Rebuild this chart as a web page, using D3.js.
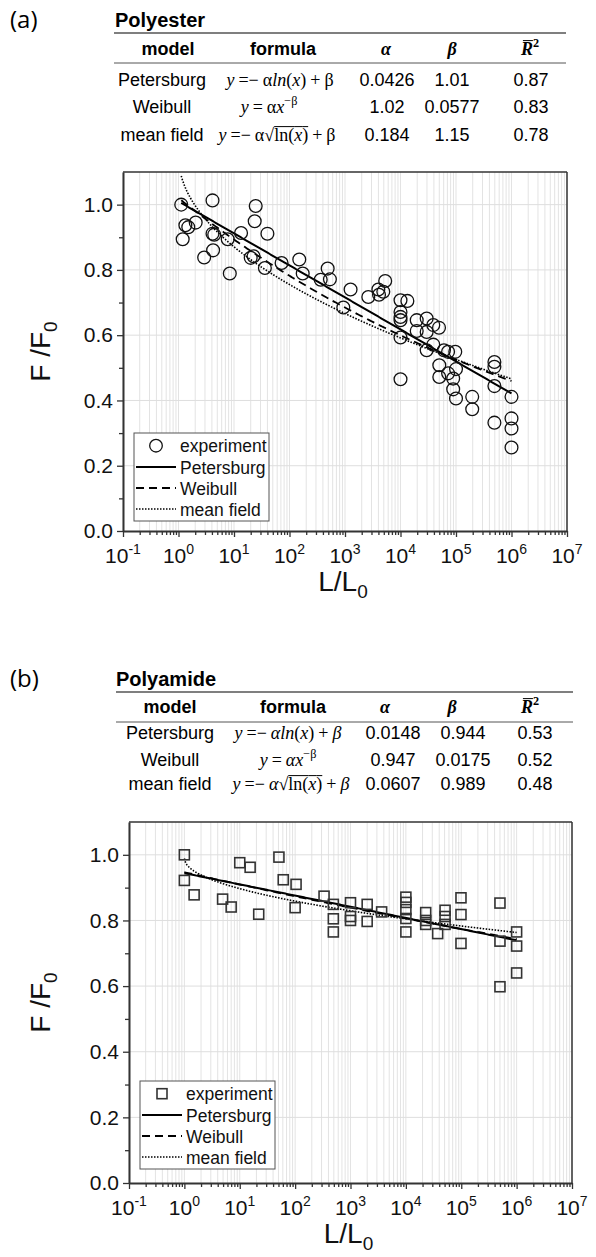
<!DOCTYPE html>
<html>
<head>
<meta charset="utf-8">
<script src="https://cdn.jsdelivr.net/npm/d3@7"></script>
<style>
body { margin: 0; background: #fff; }
</style>
</head>
<body>
<svg id="chart" width="596" height="1257"></svg>
<script>
// table values
var modelNames = ["Petersburg", "Weibull", "mean field"];
var polyesterAlpha = [0.0426, 1.02, 0.184];
var polyesterBeta = [1.01, 0.0577, 1.15];
var polyesterR2 = [0.87, 0.83, 0.78];
var polyamideAlpha = [0.0148, 0.947, 0.0607];
var polyamideBeta = [0.944, 0.0175, 0.989];
var polyamideR2 = [0.53, 0.52, 0.48];

// experiment points (L/L0, F/F0)
var polyesterL = [1.12, 1.19, 1.33, 1.5, 2.04, 2.9, 4.1, 4.1, 4.4, 4.2, 7.7, 8.4, 13.4, 20, 22.5, 23.6, 24.6, 36, 40, 72,
  150, 173, 365, 487, 535, 933, 1260, 2630, 3990, 4100, 4900, 5300, 10000, 13300, 10000, 10000, 10000, 10000, 10000,
  19600, 19600, 29600, 29600, 39000, 49400, 39000, 29600, 60700, 72000, 97000, 50000, 50000, 72000, 89000, 100000,
  89000, 100000, 196000, 196000, 492000, 492000, 492000, 492000, 1000000, 1000000, 1000000, 1000000];
var polyesterF = [1.0, 0.894, 0.937, 0.931, 0.945, 0.838, 1.013, 0.911, 0.908, 0.86, 0.894, 0.789, 0.913, 0.837, 0.842, 0.949, 0.996, 0.806, 0.911, 0.821,
  0.832, 0.789, 0.77, 0.804, 0.771, 0.685, 0.74, 0.717, 0.74, 0.724, 0.733, 0.766, 0.707, 0.705, 0.671, 0.656, 0.646, 0.593, 0.465,
  0.646, 0.613, 0.651, 0.61, 0.631, 0.623, 0.571, 0.554, 0.554, 0.549, 0.549, 0.508, 0.472, 0.483, 0.467, 0.496,
  0.434, 0.406, 0.411, 0.373, 0.518, 0.503, 0.444, 0.332, 0.411, 0.345, 0.314, 0.256];

var polyamideL = [1, 1, 1.5, 4.9, 7, 10, 15.4, 22, 51, 61, 104, 100, 333, 490, 490, 490, 1000, 1000, 1000, 2000, 2000, 3650,
  10000, 10000, 10000, 10000, 10000, 22800, 22800, 22800, 37500, 51000, 51000, 51000, 98900, 98900, 98900,
  500000, 500000, 500000, 1000000, 1000000, 1000000];
var polyamideF = [1.0, 0.922, 0.878, 0.865, 0.841, 0.976, 0.962, 0.819, 0.993, 0.924, 0.91, 0.839, 0.874, 0.849, 0.805, 0.765, 0.854, 0.812, 0.8, 0.849, 0.797, 0.826,
  0.871, 0.855, 0.833, 0.806, 0.765, 0.824, 0.8, 0.788, 0.76, 0.831, 0.812, 0.788, 0.869, 0.818, 0.73,
  0.853, 0.737, 0.598, 0.765, 0.722, 0.64];

// axis ticks
var xDecades = [0.1, 1, 10, 100, 1e3, 1e4, 1e5, 1e6, 1e7];
var xExponents = ["-1", "0", "1", "2", "3", "4", "5", "6", "7"];
var yTicks = [0, 0.2, 0.4, 0.6, 0.8, 1.0];
var yMinor = [0.1, 0.3, 0.5, 0.7, 0.9];
var legendNames = ["experiment", "Petersburg", "Weibull", "mean field"];

var serif = "'Liberation Serif','DejaVu Serif',serif";
var sans = "'Liberation Sans',Arial,sans-serif";

var svg = d3.select("#chart");

// lay out a row of text pieces and center it on cx
function richText(cx, y, segs, size) {
  var grp = svg.append("g");
  var x = 0;
  var bars = [];
  segs.forEach(function(s) {
    if (s.gap) { x += s.gap; return; }
    var t = grp.append("text")
      .attr("x", x)
      .attr("y", s.sup ? -size * 0.42 : 0)
      .attr("font-family", s.sans ? sans : serif)
      .attr("font-size", s.sup ? size * 0.68 : size)
      .attr("font-style", s.it ? "italic" : "normal")
      .attr("font-weight", s.b ? "bold" : "normal")
      .text(s.t);
    var w = t.node().getComputedTextLength();
    if (s.over) bars.push([x + (s.overPad || 0), x + w]);
    x += w;
  });
  bars.forEach(function(b) {
    grp.append("line")
      .attr("x1", b[0]).attr("x2", b[1])
      .attr("y1", -size * 0.8).attr("y2", -size * 0.8)
      .attr("stroke", "#000").attr("stroke-width", 1);
  });
  grp.attr("transform", "translate(" + (cx - x / 2) + "," + y + ")");
}

function formulas(itGreek) {
  var a = {t: "α", it: itGreek}, b = {t: "β", it: itGreek};
  return [
    [{t: "y", it: 1}, {gap: 4}, {t: "=−"}, {gap: 4}, a, {t: "ln", it: 1}, {t: "("}, {t: "x", it: 1}, {t: ")"}, {gap: 4}, {t: "+"}, {gap: 4}, b],
    [{t: "y", it: 1}, {gap: 4}, {t: "="}, {gap: 4}, a, {t: "x", it: 1}, {t: "−β", sup: 1}],
    [{t: "y", it: 1}, {gap: 4}, {t: "=−"}, {gap: 4}, a, {t: "√"}, {t: "ln(", over: 1}, {t: "x", it: 1, over: 1}, {t: ")", over: 1}, {gap: 4}, {t: "+"}, {gap: 4}, b]
  ];
}

function drawTable(t) {
  svg.append("text")
    .attr("x", t.titleX).attr("y", t.titleY)
    .attr("font-family", sans).attr("font-size", 20).attr("font-weight", "bold")
    .text(t.title);
  svg.append("text")
    .attr("x", 10).attr("y", t.titleY + 1)
    .attr("font-family", "'Open Sans',sans-serif").attr("font-size", 24)
    .text(t.tag);
  svg.append("line")
    .attr("x1", t.x0).attr("x2", t.x1).attr("y1", t.line1).attr("y2", t.line1)
    .attr("stroke", "#555").attr("stroke-width", 1.5);
  svg.append("line")
    .attr("x1", t.x0).attr("x2", t.x1).attr("y1", t.line2).attr("y2", t.line2)
    .attr("stroke", "#555").attr("stroke-width", 1);

  var hc = t.headCols;
  richText(hc[0], t.headY, [{t: "model", b: 1, sans: 1}], 18);
  richText(hc[1], t.headY, [{t: "formula", b: 1, sans: 1}], 18);
  richText(hc[2], t.headY, [{t: "α", b: 1, it: 1}], 18);
  richText(hc[3], t.headY, [{t: "β", b: 1, it: 1}], 18);
  richText(hc[4], t.headY, [{t: "R", b: 1, it: 1, over: 1, overPad: 2}, {t: "2", b: 1, sup: 1}], 18);

  var f = formulas(t.itGreek);
  modelNames.forEach(function(name, i) {
    var yy = t.rows[i];
    richText(t.nameX, yy, [{t: name, sans: 1}], 18);
    richText(t.formX[i], yy, f[i], 18);
    richText(t.valCols[0], yy, [{t: String(t.alpha[i]), sans: 1}], 18);
    richText(t.valCols[1], yy, [{t: String(t.beta[i]), sans: 1}], 18);
    richText(t.valCols[2], yy, [{t: String(t.r2[i]), sans: 1}], 18);
  });
}

function fitValue(i, a, b, L) {
  if (i === 0) return -a * Math.log(L) + b;
  if (i === 1) return a * Math.pow(L, -b);
  return -a * Math.sqrt(Math.log(L)) + b;
}

function drawPanel(p) {
  var x = d3.scaleLog().domain([0.1, 1e7]).range([p.left, p.right]);
  var y = d3.scaleLinear().domain([0, 1.1]).range([p.bottom, p.top]);
  var g = svg.append("g");

  // grid
  g.append("g").selectAll("line")
    .data(x.ticks())
    .enter().append("line")
    .attr("x1", function(d) { return x(d); })
    .attr("x2", function(d) { return x(d); })
    .attr("y1", p.top).attr("y2", p.bottom)
    .attr("stroke", "#e3e3e3").attr("stroke-width", 1);
  g.append("g").selectAll("line")
    .data(yTicks.slice(1))
    .enter().append("line")
    .attr("x1", p.left).attr("x2", p.right)
    .attr("y1", function(d) { return y(d); })
    .attr("y2", function(d) { return y(d); })
    .attr("stroke", "#dedede").attr("stroke-width", 1);

  // frame top / right
  g.append("line").attr("x1", p.left).attr("x2", p.right).attr("y1", p.top).attr("y2", p.top)
    .attr("stroke", "#333").attr("stroke-width", 1.5);
  g.append("line").attr("x1", p.right).attr("x2", p.right).attr("y1", p.top).attr("y2", p.bottom)
    .attr("stroke", "#333").attr("stroke-width", 1.5);

  // axes
  var yAxis = g.append("g").attr("transform", "translate(" + p.left + ",0)")
    .call(d3.axisLeft(y).tickValues(yTicks).tickFormat(d3.format(".1f")).tickSize(6).tickSizeOuter(0).tickPadding(4));
  g.append("g").attr("transform", "translate(" + p.left + ",0)")
    .call(d3.axisLeft(y).tickValues(yMinor).tickFormat("").tickSize(4).tickSizeOuter(0))
    .select(".domain").remove();
  yAxis.selectAll("text").attr("font-family", sans).attr("font-size", 21).attr("fill", "#111");

  var xAxis = g.append("g").attr("transform", "translate(0," + p.bottom + ")")
    .call(d3.axisBottom(x).tickValues(xDecades).tickFormat("").tickSize(6).tickSizeOuter(0));
  g.append("g").attr("transform", "translate(0," + p.bottom + ")")
    .call(d3.axisBottom(x).tickValues(x.ticks().filter(function(d) { return xDecades.indexOf(d) < 0; })).tickFormat("").tickSize(4).tickSizeOuter(0))
    .select(".domain").remove();
  g.selectAll(".domain").attr("stroke", "#333").attr("stroke-width", 2);
  g.selectAll(".tick line").attr("stroke", "#333").attr("stroke-width", 1.3);

  var lab = g.append("g").selectAll("text")
    .data(xDecades)
    .enter().append("text")
    .attr("x", function(d) { return x(d); })
    .attr("y", p.bottom + 32)
    .attr("text-anchor", "middle")
    .attr("font-family", sans).attr("font-size", 21).attr("fill", "#111");
  lab.append("tspan").text("10");
  lab.append("tspan").attr("dy", -9).attr("font-size", 14).text(function(d, i) { return xExponents[i]; });

  // axis titles
  var xt = g.append("text")
    .attr("x", (p.left + p.right) / 2 - 2).attr("y", p.bottom + 60)
    .attr("text-anchor", "middle").attr("font-family", sans).attr("font-size", 28).attr("fill", "#111");
  xt.append("tspan").text("L/L");
  xt.append("tspan").attr("dy", 7).attr("font-size", 19).text("0");
  var yt = g.append("text")
    .attr("transform", "translate(50," + ((p.top + p.bottom) / 2) + ") rotate(-90)")
    .attr("text-anchor", "middle").attr("font-family", sans).attr("font-size", 28).attr("fill", "#111");
  yt.append("tspan").text("F /F");
  yt.append("tspan").attr("dy", 7).attr("font-size", 19).text("0");

  // fitted model curves
  var clipId = "clip" + p.id;
  svg.append("clipPath").attr("id", clipId).append("rect")
    .attr("x", p.left).attr("y", p.top).attr("width", p.right - p.left).attr("height", p.bottom - p.top);
  var styles = [{dash: null, w: 2}, {dash: "8,5", w: 1.8}, {dash: "1.5,1.5", w: 1.6}];
  var steps = d3.range(0, 1.0001, 0.004);
  var line = d3.line()
    .x(function(d) { return x(d[0]); })
    .y(function(d) { return y(d[1]); });
  var curves = g.append("g").attr("clip-path", "url(#" + clipId + ")");
  modelNames.forEach(function(m, i) {
    var pts = steps.map(function(s) {
      var L = p.x0 * Math.pow(1e6 / p.x0, s);
      return [L, fitValue(i, p.alpha[i], p.beta[i], L)];
    });
    curves.append("path")
      .datum(pts)
      .attr("d", line)
      .attr("fill", "none")
      .attr("stroke", "#000")
      .attr("stroke-width", styles[i].w)
      .attr("stroke-dasharray", styles[i].dash);
  });

  // experiment markers
  var pts = p.L.map(function(L, i) { return [L, p.F[i]]; });
  if (p.marker === "circle") {
    g.append("g").selectAll("circle")
      .data(pts)
      .enter().append("circle")
      .attr("cx", function(d) { return x(d[0]); })
      .attr("cy", function(d) { return y(d[1]); })
      .attr("r", 6.4)
      .attr("fill", "none").attr("stroke", "#111").attr("stroke-width", 1.3);
  } else {
    g.append("g").selectAll("rect")
      .data(pts)
      .enter().append("rect")
      .attr("x", function(d) { return x(d[0]) - 5; })
      .attr("y", function(d) { return y(d[1]) - 5; })
      .attr("width", 10).attr("height", 10)
      .attr("fill", "none").attr("stroke", "#333").attr("stroke-width", 1.6);
  }

  // legend
  var lg = g.append("g").attr("transform", "translate(" + (p.left + 11) + "," + p.legTop + ")");
  lg.append("rect").attr("width", 135).attr("height", 88)
    .attr("fill", "#fff").attr("stroke", "#555").attr("stroke-width", 1);
  var rowY = [12.7, 34, 55, 76];
  legendNames.forEach(function(n, i) {
    lg.append("text").attr("x", 46).attr("y", rowY[i] + 6.5)
      .attr("font-family", sans).attr("font-size", 17.5).attr("fill", "#111").text(n);
    if (i === 0) {
      if (p.marker === "circle") {
        lg.append("circle").attr("cx", 22).attr("cy", rowY[i]).attr("r", 6.3)
          .attr("fill", "none").attr("stroke", "#111").attr("stroke-width", 1.3);
      } else {
        lg.append("rect").attr("x", 17).attr("y", rowY[i] - 5).attr("width", 10).attr("height", 10)
          .attr("fill", "none").attr("stroke", "#333").attr("stroke-width", 1.6);
      }
    } else {
      lg.append("line").attr("x1", 2).attr("x2", 42).attr("y1", rowY[i]).attr("y2", rowY[i])
        .attr("stroke", "#000").attr("stroke-width", styles[i - 1].w)
        .attr("stroke-dasharray", styles[i - 1].dash);
    }
  });
}

drawTable({
  tag: "(a)", title: "Polyester", titleX: 115, titleY: 27,
  x0: 114, x1: 566, line1: 33, line2: 63, headY: 55,
  headCols: [168, 283, 386, 452, 530],
  nameX: 162, formX: [280, 269, 277], valCols: [387, 452, 531],
  rows: [86, 113, 141], itGreek: 0,
  alpha: polyesterAlpha, beta: polyesterBeta, r2: polyesterR2
});
drawTable({
  tag: "(b)", title: "Polyamide", titleX: 116, titleY: 686,
  x0: 116, x1: 573, line1: 692, line2: 722, headY: 713,
  headCols: [170, 293, 385, 452, 530],
  nameX: 170, formX: [288, 288, 291], valCols: [393, 463, 535],
  rows: [739, 766, 790], itGreek: 1,
  alpha: polyamideAlpha, beta: polyamideBeta, r2: polyamideR2
});

drawPanel({
  id: "a", left: 123, right: 567, top: 172, bottom: 531, x0: 1.12,
  L: polyesterL, F: polyesterF, alpha: polyesterAlpha, beta: polyesterBeta,
  marker: "circle", legTop: 433
});
drawPanel({
  id: "b", left: 129, right: 572, top: 822, bottom: 1183, x0: 1,
  L: polyamideL, F: polyamideF, alpha: polyamideAlpha, beta: polyamideBeta,
  marker: "square", legTop: 1081
});
</script>
</body>
</html>
